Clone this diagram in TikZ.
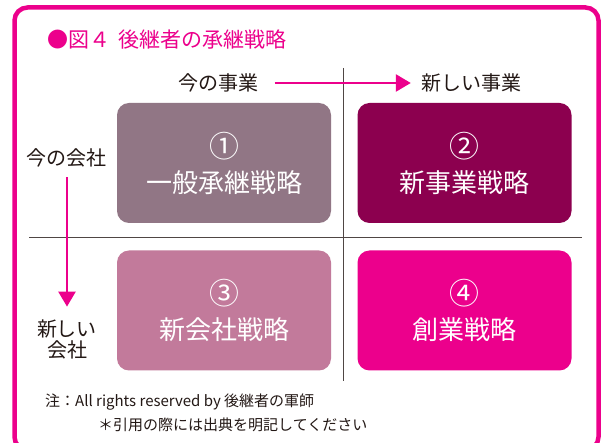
\documentclass[tikz,border=0pt]{standalone}
\usepackage{fontspec}
\setmainfont{Noto Sans CJK JP}
\usetikzlibrary{arrows.meta}

\definecolor{framepink}{HTML}{EC008C}
\definecolor{cellgray}{HTML}{917685}
\definecolor{cellwine}{HTML}{8C004F}
\definecolor{cellrose}{HTML}{C27A9B}
\definecolor{inkdark}{HTML}{231815}

\tikzset{
  cell/.style={fill=#1, rounded corners=12pt, minimum width=214pt,
    minimum height=120pt, inner sep=0pt, text=white, align=center,
    font=\fontsize{26}{35}\selectfont},
  axislabel/.style={text=inkdark, inner sep=0pt, align=center,
    font=\fontsize{20}{21}\selectfont},
  pinkarrow/.style={draw=framepink, line width=2.6pt,
    -{Triangle[length=15pt,width=17pt]}}
}
\newcommand{\circnum}[1]{\scalebox{1.15}{#1}}

\begin{document}
\begin{tikzpicture}[x=1pt,y=-1pt]
    \useasboundingbox (0,0) rectangle (603,443);
    \fill[white] (0,0) rectangle (603,443);
    \draw[framepink, line width=4.5pt, rounded corners=13pt] (14.5,7.5) rectangle (598.5,450);

    % title
    \node[anchor=west, inner sep=0pt, text=framepink, font=\fontsize{21}{24}\selectfont]
        (title) at (47,40) {●図４\hspace{0.4em}後継者の承継戦略};

    % dividing lines
    \draw[inkdark!80, line width=0.9pt] (29,237) -- (582,237);
    \draw[inkdark!80, line width=0.9pt] (343,68) -- (343,381);

    % the four cells
    \node[cell=cellgray] (c1) at (224,163) {\circnum{①}\\一般承継戦略};
    \node[cell=cellwine] (c2) at (464.5,163) {\circnum{②}\\新事業戦略};
    \node[cell=cellrose] (c3) at (224,310.5) {\circnum{③}\\新会社戦略};
    \node[cell=framepink] (c4) at (464.5,310.5) {\circnum{④}\\創業戦略};

    % axes
    \node[axislabel] (nowbiz) at (218.5,83) {今の事業};
    \node[axislabel] (newbiz) at (471,83) {新しい事業};
    \node[axislabel] (nowco) at (67,158) {今の会社};
    \node[axislabel] (newco) at (67,339.5) {新しい\\会社};
    \draw[pinkarrow] ([xshift=16pt]nowbiz.east) -- ([xshift=-10pt]newbiz.west);
    \draw[pinkarrow] ([yshift=-10pt]nowco.south) -- ([yshift=13pt]newco.north);

    % note
    \node[anchor=west, inner sep=0pt, text=inkdark, font=\fontsize{15}{17}\selectfont]
        (note) at (45,402) {注：All rights reserved by 後継者の軍師};
    \node[anchor=west, inner sep=0pt, text=inkdark, font=\fontsize{15}{17}\selectfont]
        (cite) at (98,425) {＊引用の際には出典を明記してください};
\end{tikzpicture}
\end{document}
